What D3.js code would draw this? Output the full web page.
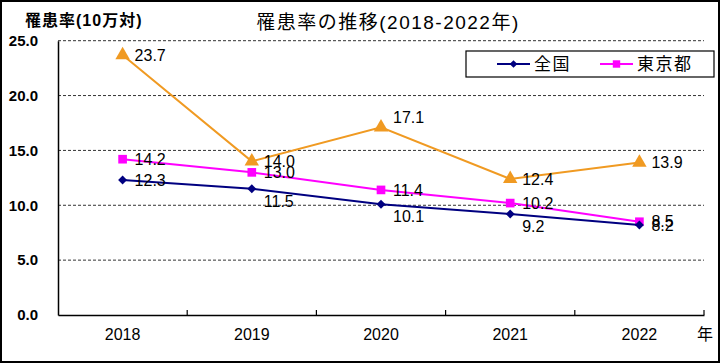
<!DOCTYPE html>
<html>
<head>
<meta charset="utf-8">
<script src="https://cdn.jsdelivr.net/npm/d3@7"></script>
<style>
  body { margin: 0; background: #fff; }
  svg { display: block; font-family: "Liberation Sans", Arial, "Noto Sans CJK JP", sans-serif; }
</style>
</head>
<body>
<script>
// data
var years = ['2018', '2019', '2020', '2021', '2022'];
var national = [12.3, 11.5, 10.1, 9.2, 8.2];   // 全国
var tokyo = [14.2, 13.0, 11.4, 10.2, 8.5];      // 東京都
var other = [23.7, 14.0, 17.1, 12.4, 13.9];     // orange series, no legend entry
var yTicks = [0, 5, 10, 15, 20, 25];
// where each value label sits relative to its point: r = right, b = below right, t = above right
var nationalLabelPos = ['r', 'b', 'b', 'b', 'r'];
var tokyoLabelPos = ['r', 'r', 'r', 'r', 'r'];
var otherLabelPos = ['r', 'r', 't', 'r', 'r'];

var W = 720, H = 364;
var svg = d3.select('body').append('svg')
  .attr('width', W)
  .attr('height', H);

// outer frame
svg.append('rect')
  .attr('x', 1).attr('y', 1)
  .attr('width', W - 2).attr('height', H - 3)
  .attr('fill', 'none')
  .attr('stroke', '#000')
  .attr('stroke-width', 2);

var x = d3.scaleBand().domain(years).range([58, 704]).padding(0);
var y = d3.scaleLinear().domain([0, 25]).range([315, 40.7]);
var cx = function(i) { return x(years[i]) + x.bandwidth() / 2; };

// dashed gridlines
svg.selectAll('line.grid')
  .data(yTicks.filter(function(d) { return d > 0; }))
  .enter()
    .append('line')
    .attr('class', 'grid')
    .attr('x1', 58).attr('x2', 704)
    .attr('y1', function(d) { return y(d); })
    .attr('y2', function(d) { return y(d); })
    .attr('stroke', '#333')
    .attr('stroke-width', 1)
    .attr('stroke-dasharray', '3,2');

// y axis
var yAxis = svg.append('g')
  .attr('transform', 'translate(58,0)')
  .call(d3.axisLeft(y).tickValues(yTicks).tickFormat(d3.format('.1f')).tickSize(0).tickPadding(20));
yAxis.select('.domain').attr('stroke', '#000').attr('stroke-width', 1.5);
yAxis.selectAll('text')
  .attr('font-family', '"Liberation Sans", Arial, sans-serif')
  .attr('font-size', 15)
  .attr('font-weight', 'bold')
  .attr('fill', '#000');

// x axis
var xAxis = svg.append('g')
  .attr('transform', 'translate(0,315)')
  .call(d3.axisBottom(x).tickSize(0).tickPadding(14));
xAxis.select('.domain').attr('stroke', '#000').attr('stroke-width', 1.5);
xAxis.selectAll('text')
  .attr('font-family', '"Liberation Sans", Arial, sans-serif')
  .attr('font-size', 16)
  .attr('fill', '#000');

// inward tick marks on the band boundaries
var bounds = years.slice(1).map(function(d) { return x(d); }).concat([x.range()[1]]);
svg.selectAll('line.xtick')
  .data(bounds)
  .enter()
    .append('line')
    .attr('class', 'xtick')
    .attr('x1', function(d) { return d; })
    .attr('x2', function(d) { return d; })
    .attr('y1', 315).attr('y2', 310)
    .attr('stroke', '#000')
    .attr('stroke-width', 1.2);

// series (diamond = square turned 45 degrees, like the spreadsheet marker)
var series = [
  { values: other, color: '#F09A22', marker: d3.symbolTriangle, size: 90, rot: 0, pos: otherLabelPos },
  { values: tokyo, color: '#FF00FF', marker: d3.symbolSquare, size: 75, rot: 0, pos: tokyoLabelPos },
  { values: national, color: '#000080', marker: d3.symbolSquare, size: 40, rot: 45, pos: nationalLabelPos }
];

var line = d3.line()
  .x(function(d, i) { return cx(i); })
  .y(function(d) { return y(d); });

series.forEach(function(s) {
  svg.append('path')
    .datum(s.values)
    .attr('d', line)
    .attr('fill', 'none')
    .attr('stroke', s.color)
    .attr('stroke-width', 2);

  svg.selectAll(null)
    .data(s.values)
    .enter()
      .append('path')
      .attr('d', d3.symbol().type(s.marker).size(s.size))
      .attr('transform', function(d, i) { return 'translate(' + cx(i) + ',' + y(d) + ') rotate(' + s.rot + ')'; })
      .attr('fill', s.color);
});

// value labels
var dyFor = { r: 0, b: 12, t: -10 };
series.forEach(function(s) {
  svg.selectAll(null)
    .data(s.values)
    .enter()
      .append('text')
      .attr('x', function(d, i) { return cx(i) + 12; })
      .attr('y', function(d, i) { return y(d) + dyFor[s.pos[i]]; })
      .attr('dy', '0.36em')
      .attr('font-size', 16)
      .attr('fill', '#000')
      .text(function(d) { return d3.format('.1f')(d); });
});

// title and axis captions
svg.append('text')
  .attr('x', 388).attr('y', 29)
  .attr('text-anchor', 'middle')
  .attr('font-size', 19)
  .attr('letter-spacing', 1.5)
  .attr('fill', '#000')
  .text('罹患率の推移(2018-2022年)');

svg.append('text')
  .attr('x', 25).attr('y', 26)
  .attr('font-size', 16)
  .attr('font-weight', 'bold')
  .attr('letter-spacing', 1)
  .attr('fill', '#000')
  .text('罹患率(10万対)');

svg.append('text')
  .attr('x', 697).attr('y', 340)
  .attr('font-size', 16)
  .attr('fill', '#000')
  .text('年');

// legend
var legend = svg.append('g');
legend.append('rect')
  .attr('x', 466).attr('y', 51)
  .attr('width', 248).attr('height', 26)
  .attr('fill', '#fff')
  .attr('stroke', '#000')
  .attr('stroke-width', 1.2);

var legendItems = [
  { name: '全国', color: '#000080', marker: d3.symbolSquare, size: 30, rot: 45, x: 497 },
  { name: '東京都', color: '#FF00FF', marker: d3.symbolSquare, size: 55, rot: 0, x: 600 }
];
legendItems.forEach(function(d) {
  legend.append('line')
    .attr('x1', d.x).attr('x2', d.x + 33)
    .attr('y1', 64).attr('y2', 64)
    .attr('stroke', d.color)
    .attr('stroke-width', 2);
  legend.append('path')
    .attr('d', d3.symbol().type(d.marker).size(d.size))
    .attr('transform', 'translate(' + (d.x + 16.5) + ',64) rotate(' + d.rot + ')')
    .attr('fill', d.color);
  legend.append('text')
    .attr('x', d.x + 37).attr('y', 64)
    .attr('dy', '0.36em')
    .attr('font-size', 17)
    .attr('letter-spacing', 1.5)
    .attr('fill', '#000')
    .text(d.name);
});
</script>
</body>
</html>
